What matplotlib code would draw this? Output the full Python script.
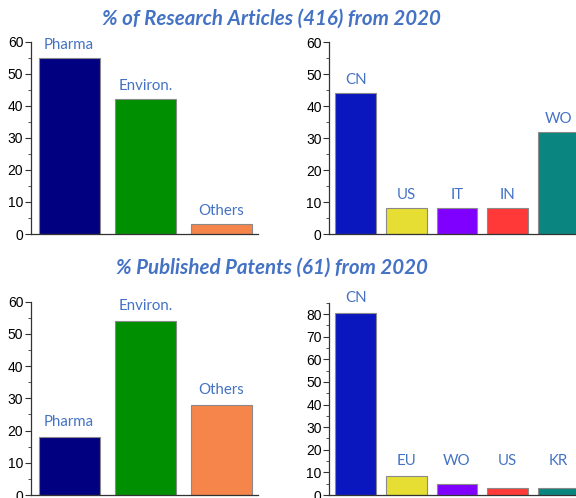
import matplotlib
matplotlib.use("Agg")
import matplotlib.pyplot as plt
from matplotlib.ticker import MultipleLocator

# ---- data ----
title_top = "% of Research Articles (416) from 2020"
title_bottom = "% Published Patents (61) from 2020"

art_field_cats = ["Pharma", "Environ.", "Others"]
art_field_vals = [55, 42, 3]
art_country_cats = ["CN", "US", "IT", "IN", "WO"]
art_country_vals = [44, 8, 8, 8, 32]

pat_field_cats = ["Pharma", "Environ.", "Others"]
pat_field_vals = [18, 54, 28]
pat_country_cats = ["CN", "EU", "WO", "US", "KR"]
pat_country_vals = [80.3, 8.2, 4.9, 3.3, 3.3]

field_colors = ["#000080", "#008F00", "#F5854B"]
art_country_colors = ["#0A17BE", "#E6DE33", "#8000FF", "#FF3838", "#0A8580"]
pat_country_colors = ["#0A17BE", "#E6DE33", "#8000FF", "#FF3838", "#0A8580"]

label_color = "#4472C4"
W, H = 576, 498

fig = plt.figure(figsize=(W / 100, H / 100), dpi=100)


def px_axes(x0, x1, ytop, ybot):
    return fig.add_axes([x0 / W, 1 - ybot / H, (x1 - x0) / W, (ybot - ytop) / H])


def draw(ax, cats, vals, colors, ylim, xlim, offset_pt, floor=None):
    xs = list(range(len(cats)))
    ax.bar(xs, vals, width=0.8, color=colors, edgecolor="#8a8a8a", linewidth=0.8, zorder=2)
    ax.set_xlim(*xlim)
    ax.set_ylim(*ylim)
    for x, v, c in zip(xs, vals, cats):
        y = v if floor is None else max(v, floor)
        ax.annotate(c, (x, y), xytext=(0, offset_pt), textcoords="offset points",
                    ha="center", va="center", color=label_color,
                    fontsize=10.8, family=["Lato", "DejaVu Sans"])
    for s in ["top", "right"]:
        ax.spines[s].set_visible(False)
    for s in ["left", "bottom"]:
        ax.spines[s].set_color("#333333")
        ax.spines[s].set_linewidth(0.9)
    ax.set_xticks([])
    ax.yaxis.set_major_locator(MultipleLocator(10))
    ax.yaxis.set_minor_locator(MultipleLocator(5))
    ax.tick_params(axis="y", which="major", direction="out", length=4, width=0.8,
                   labelsize=10, pad=1.5, colors="#333333", labelcolor="black")
    ax.tick_params(axis="y", which="minor", direction="out", length=2, width=0.6,
                   colors="#333333")
    for t in ax.get_yticklabels():
        t.set_family(["Liberation Sans", "DejaVu Sans"])
    ax.patch.set_alpha(0)


ax1 = px_axes(31, 258, 41.7, 234)
draw(ax1, art_field_cats, art_field_vals, field_colors, (0, 60), (-0.5, 2.48), 9.5)

ax2 = px_axes(329.3, 583.8, 42.3, 234)
draw(ax2, art_country_cats, art_country_vals, art_country_colors, (0, 60), (-0.52, 4.5), 9.5)

ax3 = px_axes(31, 258, 301.7, 495)
draw(ax3, pat_field_cats, pat_field_vals, field_colors, (0, 60), (-0.5, 2.48), 11)

ax4 = px_axes(329.3, 583.8, 302.7, 495)
draw(ax4, pat_country_cats, pat_country_vals, pat_country_colors, (0, 85), (-0.52, 4.5), 11,
     floor=pat_country_vals[1])

title_kw = dict(ha="center", va="center", color=label_color, fontsize=14.8,
                fontweight="bold", fontstyle="italic", family=["Lato", "DejaVu Sans"])
fig.text(271 / W, 1 - 19 / H, title_top, **title_kw)
fig.text(271.5 / W, 1 - 268 / H, title_bottom, **title_kw)

fig.savefig("out.png", dpi=100)
